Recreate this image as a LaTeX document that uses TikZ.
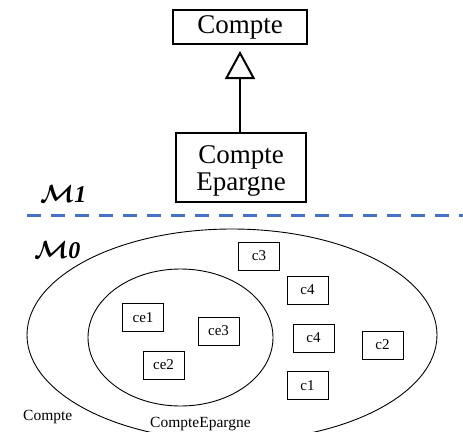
\documentclass[tikz,border=0pt]{standalone}
\usepackage{fontspec}
\setmainfont{Liberation Serif}
\usetikzlibrary{arrows.meta}
\definecolor{dashblue}{HTML}{4472C4}
\begin{document}
\begin{tikzpicture}[x=1pt,y=-1pt,
  classbox/.style={draw,line width=2pt,inner sep=0pt},
  classtext/.style={inner sep=0pt,font=\fontsize{27}{28}\selectfont,align=center},
  objbox/.style={draw,line width=0.8pt,minimum width=41pt,minimum height=28pt,inner sep=0pt,font=\fontsize{15}{16}\selectfont},
  setlabel/.style={font=\fontsize{15.5}{16}\selectfont,inner sep=0pt,anchor=base west},
  metalabel/.style={font=\fontsize{24}{24}\selectfont\boldmath,inner sep=0pt,anchor=base west}]
\useasboundingbox (0,0) rectangle (463,431);
\begin{scope}
\clip (0,0) rectangle (463,431);
% class diagram
\node[classbox,minimum width=134pt,minimum height=34pt] (compte) at (240,27) {};
\node[classtext] (comptetxt) at (compte.center) {Compte};
\node[classbox,minimum width=130pt,minimum height=69pt] (epargne) at (241,167.5) {};
\node[classtext,anchor=north] (epargnetxt) at ([yshift=-13pt]epargne.north) {Compte\\[-1pt]Epargne};
\draw[line width=2pt,-{Triangle[open,width=30pt,length=28pt,line width=2pt]}] (epargne.north -| compte.south) -- ([yshift=-6pt]compte.south);
% meta labels
\node[metalabel] (m1) at (40,202) {$\mathcal{M}$\textbf{\textit{1}}};
\node[metalabel] (m0) at (34,258) {$\mathcal{M}$\textbf{\textit{0}}};
\coordinate (dl) at (27,215);
\coordinate (dr) at (463,215);
\draw[dashblue,line width=3pt,dash pattern=on 14pt off 10pt] (dl) -- (dr);
% sets
\draw[line width=0.9pt] (232,335) ellipse [x radius=205, y radius=106];
\draw[line width=0.9pt] (180.5,337.5) ellipse [x radius=92.5, y radius=68.5];
\end{scope}
\node[setlabel] (lc) at (23,420) {Compte};
\node[setlabel] (lce) at (150,427) {CompteEpargne};
% objects
\node[objbox] (c3) at (259,256) {c3};
\node[objbox] (c4a) at (307.5,290) {c4};
\node[objbox] (c4b) at (313.5,338) {c4};
\node[objbox] (c2) at (382.5,345) {c2};
\node[objbox] (c1) at (307.5,385.5) {c1};
\node[objbox] (ce1) at (143,317.5) {ce1};
\node[objbox] (ce3) at (218.5,331) {ce3};
\node[objbox] (ce2) at (163.5,365) {ce2};
\end{tikzpicture}
\end{document}
